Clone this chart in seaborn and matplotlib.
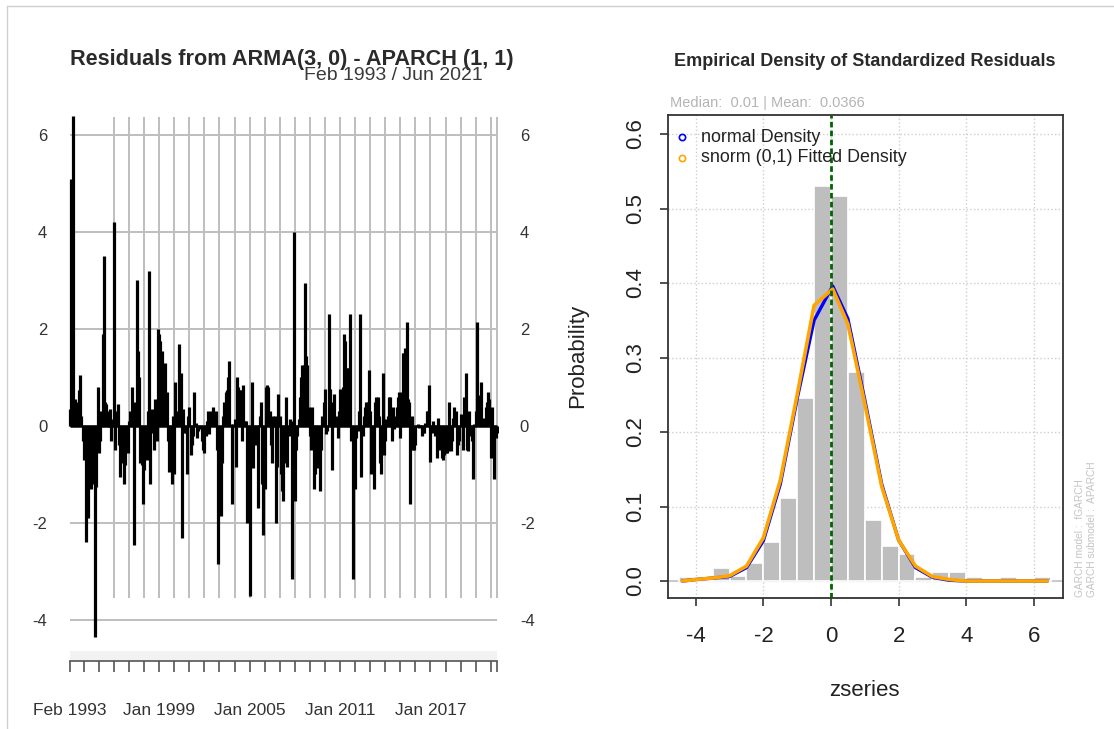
import numpy as np
import pandas as pd
import matplotlib
matplotlib.use("Agg")
import matplotlib.pyplot as plt
from matplotlib.patches import Rectangle
import seaborn as sns

# standardized residuals, monthly Feb 1993 .. Jun 2021
resid = [
    0.35, 5.1, 6.4, 0.5, 0.55, 0.4, 0.5, 0.75, 1.05, 0.2,
    -0.3, -0.7, -0.5, -2.4, -1.9, -1.2, -0.85, -1.3, -1.2, -0.6,
    -4.35, -1.25, 0.8, -0.55, -0.3, 0.3, 1.9, 3.5, 0.5, 0.45,
    0.3, -0.03, 0.35, -0.3, 0.15, 4.2, -0.5, 0.3, 0.45, -0.4,
    -1.05, -0.55, -0.77, -1.2, -0.8, -0.5, -0.55, 0.1, 0.3, 0.8,
    0.25, -2.45, 0.5, 3.0, 1.55, 1.0, -0.77, -0.8, -1.6, -0.9,
    -0.15, -0.7, 0.3, 3.2, -1.2, 0.35, -0.15, -0.5, 0.55, -0.3,
    2.0, 1.9, 1.75, 1.55, 1.1, 0.5, 1.3, 0.7, -0.3, -0.95,
    -0.6, -1.2, 0.2, -1.0,
    0.9, 0.3, 0.2, 1.7, 1.1, -2.3, 0.35, -0.15, -0.15, -1.0,
    0.2, 0.4, -0.6, -0.4, -0.2, 0.7, 0.07, -0.25, -0.1, -0.05,
    -0.07, -0.3, -0.5, -0.55, -0.2, 0.1, 0.3, -0.17, 0.3, 0.25,
    0.4, 0.25, 0.3, -0.5, -2.85, -0.77, -1.85, -0.77, 0.2, 0.5,
    0.7, 0.75, 1.0, 1.35, 0.05, -1.6, 0.05, 0.15, -0.85, 1.0,
    0.8, 0.75, 0.75, -0.3, 0.85, 0.1, 0.1, -2.0, -0.6, -3.5,
    -0.5, 0.9, -0.87, -0.3, -0.4, -0.3, -1.7, 0.2, 0.5, -1.2,
    -2.25, -1.3, 0.8, 0.85, 0.8, 0.3, -0.4, -0.77, 0.2, 0.2,
    -2.0, -0.85, 0.65, 0.2, -1.0, -1.35,
    -1.55, -0.77, 0.6, -0.85, -0.2, 0.15, 0.1, -3.15, 4.0, -1.55,
    -0.5, -0.2, 0.15, 0.6, 1.0, 1.25, 1.25, 2.95, 1.45, 1.25,
    0.4, -0.2, -0.5, 0.4, -1.3, -1.0, -0.55, -0.87, -0.6, -1.35,
    -0.5, 0.2, 0.5, 0.77, -0.17, -0.1, 2.3, 0.77, 0.5, -0.9,
    0.65, 0.1, 0.2, -0.25, 0.3, 0.77, 0.3, 0.8, 1.9, 1.75,
    1.2, 1.2, 1.2, 2.3, -0.3, -3.15, -0.4, -1.3, -0.25, -0.1,
    0.3, 2.3, -1.05, -0.2, 0.2, 0.4, 0.5, 0.5, 1.15, 0.3,
    -1.0, -0.7, -1.3, 0.5, 0.6, 0.6, 0.2, -0.77, -1.0, 1.1,
    -0.6, -0.3, 0.15, 0.2, 0.6,
    0.6, -0.3, 0.4, -0.07, 0.2, 0.4, 0.6, 0.7, -0.25, 0.7,
    1.5, 1.5, 1.6, 2.15, 0.55, 0.5, -1.6, 0.2, -0.5, -0.5,
    -0.4, -0.03, 0.05, -0.05, 0.02, -0.2, -0.15, -0.15, 0.07, 0.3,
    0.3, 0.85, -0.75, -0.15, 0.1, 0.03, -0.2, -0.65, 0.17, -0.5,
    -0.3, -0.65, -0.7, -0.6, -0.55, -0.55, -0.52, 0.5, -0.52, -0.3,
    0.17, 0.4, 0.3, -0.6, -0.4, -0.3, 0.25, 0.15, -0.5, 0.6,
    1.1, -0.5, -0.52, 0.3, -0.2, -0.3, -1.1, 0.05, 0.3, 2.15,
    0.63, 0.07, 0.9, 0.15, 0.15, 0.17, 0.4, 0.5, 0.7, 0.55,
    -0.65, 0.4, -0.2, -1.1, -0.25, -0.15,
]
start_month = "1993-02-01"
resid_ticks = [-4, -2, 0, 2, 4, 6]

# histogram of standardized residuals (density per 0.5 bin)
hist_edges = [-4.5, -4.0, -3.5, -3.0, -2.5, -2.0, -1.5, -1.0, -0.5, 0.0, 0.5,
              1.0, 1.5, 2.0, 2.5, 3.0, 3.5, 4.0, 4.5, 5.0, 5.5, 6.0, 6.5]
hist_density = [0.006, 0.0, 0.017, 0.007, 0.024, 0.053, 0.112, 0.246, 0.53, 0.517, 0.28,
                0.082, 0.047, 0.036, 0.006, 0.012, 0.012, 0.006, 0.0, 0.006, 0.0, 0.006]

# density curves
dens_x = [-4.4, -4.0, -3.5, -3.0, -2.5, -2.0, -1.5, -1.0, -0.5, 0.05, 0.5,
          1.0, 1.5, 2.0, 2.5, 3.0, 3.5, 4.0, 5.0, 6.0, 6.4]
normal_y = [0.0, 0.002, 0.004, 0.006, 0.018, 0.054, 0.13, 0.245, 0.35, 0.396, 0.352,
            0.243, 0.13, 0.055, 0.018, 0.005, 0.001, 0.0, 0.0, 0.0, 0.0]
snorm_y = [0.0, 0.002, 0.004, 0.007, 0.02, 0.058, 0.135, 0.25, 0.37, 0.392, 0.345,
           0.238, 0.127, 0.055, 0.02, 0.006, 0.002, 0.0, 0.0, 0.0, 0.0]
median_val = 0.01
mean_val = 0.0366

sns.set_style("white")
plt.rcParams["font.family"] = ["Liberation Sans", "DejaVu Sans"]
plt.rcParams["axes.unicode_minus"] = False

W, H = 1114, 729
fig = plt.figure(figsize=(W / 100, H / 100), dpi=100)


def box(x0, y0, x1, y1):
    return [x0 / W, 1 - y1 / H, (x1 - x0) / W, (y1 - y0) / H]


n = len(resid)
idx = np.arange(n)
dates = pd.date_range(start_month, periods=n, freq="MS")
jan = list(np.where(dates.month == 1)[0])

# ---- left panel: residual series
ax1 = fig.add_axes(box(68, 112, 499, 642))
ax1.set_xlim(-1.6, 341.6)
ax1.set_ylim(-4.454, 6.474)
grid_x = [i for i in jan if dates[i].year >= 1996] + [n - 1]
ax1.vlines(grid_x, -3.55, 6.37, color="#BEBEBE", lw=1.4, zorder=1)
ax1.hlines(resid_ticks, 0, n - 1, color="#BEBEBE", lw=1.4, zorder=1)
ax1.vlines(idx, 0, resid, color="black", lw=2.3, zorder=3)
ax1.hlines(0, 0, n - 1, color="black", lw=1.8, zorder=3)
for s in ax1.spines.values():
    s.set_visible(False)
ax1.set_xticks([])
ax1.set_yticks(resid_ticks)
ax1.set_yticklabels([str(t) for t in resid_ticks])
ax1.tick_params(axis="y", length=0, pad=15, labelsize=12, labelcolor="#333333",
                left=False, right=False, labelleft=True, labelright=True)

# time axis strip
axs = fig.add_axes(box(68, 651, 499, 661))
axs.set_xlim(-1.6, 341.6)
axs.set_ylim(0, 1)
axs.add_patch(Rectangle((0, 0), n - 1, 1, facecolor="#F2F2F2", edgecolor="none"))
for k in ["top", "left", "right"]:
    axs.spines[k].set_visible(False)
axs.spines["bottom"].set_color("#555555")
axs.spines["bottom"].set_linewidth(1.2)
axs.spines["bottom"].set_bounds(0, n - 1)
tick_pos = [0] + jan + [n - 1]
label_at = [0] + [i for i in jan if (dates[i].year - 1999) % 6 == 0]
axs.set_xticks(tick_pos)
axs.set_xticklabels([dates[i].strftime("%b %Y") if i in label_at else "" for i in tick_pos])
axs.set_yticks([])
axs.tick_params(axis="x", bottom=True, direction="out", length=8, width=1.2,
                color="#555555", pad=22, labelsize=12.5, labelcolor="#333333")

fig.text(70 / W, 1 - 60 / H, "Residuals from ARMA(3, 0) - APARCH (1, 1)",
         ha="left", va="center", fontsize=15.6, fontweight="bold", color="#2a2a2a")
fig.text(483 / W, 1 - 76 / H, "Feb 1993 / Jun 2021", ha="right", va="center",
         fontsize=14, color="#3a3a3a")

# ---- right panel: empirical density
ax2 = fig.add_axes(box(668, 115, 1063, 598))
bin_mids = [(a + b) / 2 for a, b in zip(hist_edges[:-1], hist_edges[1:])]
ax2.axhline(0, color="#BEBEBE", lw=1.2, zorder=0)
sns.histplot(x=bin_mids, weights=hist_density, bins=hist_edges, color="#BEBEBE",
             edgecolor="white", linewidth=1.2, alpha=1, ax=ax2, zorder=2)
sns.lineplot(x=dens_x, y=normal_y, color="blue", lw=2.4, ax=ax2, zorder=3)
sns.lineplot(x=dens_x, y=snorm_y, color="orange", lw=2.6, ax=ax2, zorder=4)
ax2.axvline(median_val, color="#006400", lw=2, ls=(0, (2, 1.2)), zorder=5)
ax2.set_xlim(-4.822, 6.864)
ax2.set_ylim(-0.0228, 0.6255)
ax2.set_xticks([-4, -2, 0, 2, 4, 6])
ax2.set_yticks([0, 0.1, 0.2, 0.3, 0.4, 0.5, 0.6])
ax2.set_yticklabels(["0.0", "0.1", "0.2", "0.3", "0.4", "0.5", "0.6"])
for lab in ax2.get_yticklabels():
    lab.set_rotation(90)
    lab.set_va("center")
ax2.grid(True, ls=":", color="#CFCFCF", lw=1)
ax2.set_axisbelow(True)
ax2.tick_params(bottom=True, left=True, direction="out", length=6, width=1.2,
                color="#333333", labelsize=16, labelcolor="#222222")
ax2.tick_params(axis="y", pad=10)
ax2.tick_params(axis="x", pad=14)
ax2.set_xlabel("")
ax2.set_ylabel("")
for s in ax2.spines.values():
    s.set_color("#333333")
    s.set_linewidth(1.3)

fig.text(864 / W, 1 - 690 / H, "zseries", ha="center", va="center", fontsize=16,
         color="#222222")
fig.text(578 / W, 1 - 356 / H, "Probability", ha="center", va="center", fontsize=16,
         rotation=90, color="#222222")
fig.text(865 / W, 1 - 62 / H, "Empirical Density of Standardized Residuals",
         ha="center", va="center", fontsize=13, fontweight="bold", color="#2a2a2a")
fig.text(670 / W, 1 - 103 / H, f"Median:  {median_val} | Mean:  {mean_val}",
         ha="left", va="center", fontsize=10.5, color="#B4B4B4")

# legend
for row, (lab, col) in enumerate([("normal Density", "blue"),
                                  ("snorm (0,1) Fitted Density", "orange")]):
    yy = 1 - (137 + 21 * row) / H
    fig.lines.append(plt.Line2D([682 / W], [yy], marker="o", ms=4.5, mfc="none",
                                mec=col, mew=1.2, transform=fig.transFigure))
    fig.text(701 / W, yy, lab, ha="left", va="center", fontsize=12.9, color="#222222")

fig.text(1080 / W, 1 - 597 / H, "GARCH model :  fGARCH", rotation=90, ha="center",
         va="bottom", fontsize=7.3, color="#C4C4C4")
fig.text(1092 / W, 1 - 597 / H, "GARCH submodel :  APARCH", rotation=90, ha="center",
         va="bottom", fontsize=7.3, color="#C4C4C4")

# thin frame of the screenshot (top and left edges)
fig.lines.append(plt.Line2D([7 / W, 1], [1 - 6 / H, 1 - 6 / H], color="#CFCFCF", lw=1,
                            transform=fig.transFigure))
fig.lines.append(plt.Line2D([7 / W, 7 / W], [0, 1 - 6 / H], color="#CFCFCF", lw=1,
                            transform=fig.transFigure))

fig.savefig("out.png", dpi=100)
